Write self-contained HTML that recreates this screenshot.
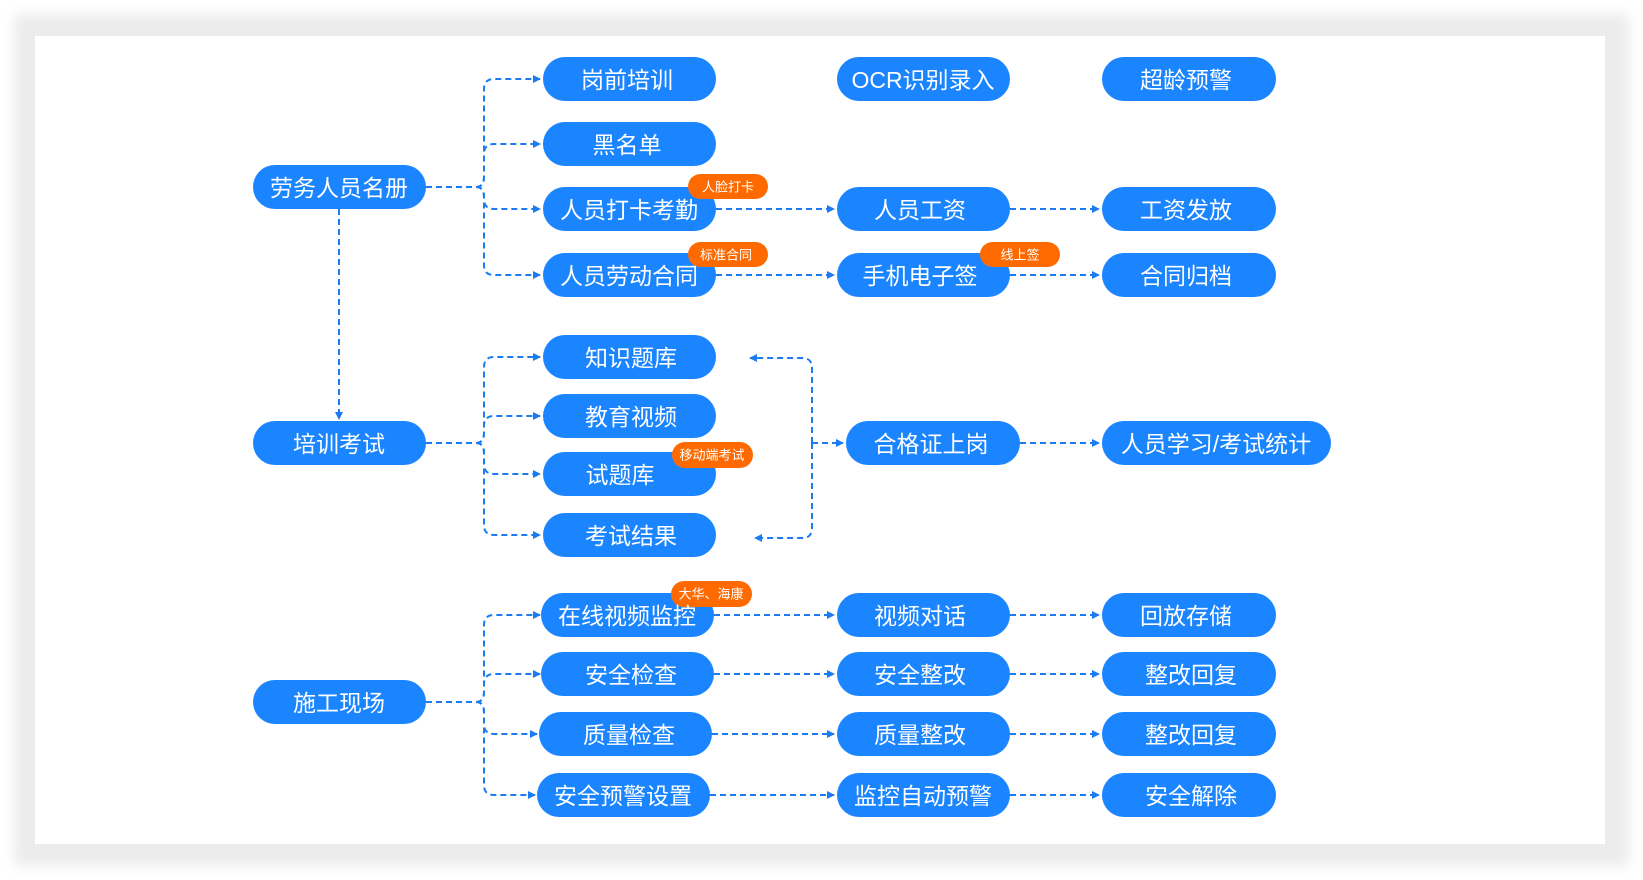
<!DOCTYPE html>
<html><head><meta charset="utf-8">
<style>
html,body{margin:0;padding:0;background:#fff;}
body{width:1643px;height:880px;position:relative;overflow:hidden;font-family:"Liberation Sans","Noto Sans CJK SC",sans-serif;}
.frame{position:absolute;left:14px;top:14px;width:1615px;height:852px;background:#ececec;filter:blur(6px);}
.card{position:absolute;left:35px;top:36px;width:1570px;height:808px;background:#fff;}
svg{position:absolute;left:0;top:0;}
</style></head><body>
<div class="frame"></div><div class="card"></div>
<svg width="1643" height="880" viewBox="0 0 1643 880">
<defs>
<marker id="a" markerWidth="8" markerHeight="8" refX="7" refY="4" orient="auto" markerUnits="userSpaceOnUse">
<path d="M0,0 L8,4 L0,8 z" fill="#1a7cf0"/></marker>
</defs>
<g fill="none" stroke="#1a7cf0" stroke-width="2" stroke-dasharray="6,4">
<!-- group 1 -->
<path d="M426 187 H476 Q484 187 484 177 V89 Q484 79 494 79 H540" marker-end="url(#a)"/>
<path d="M476 187 Q484 187 484 177 V154 Q484 144 494 144 H540" marker-end="url(#a)"/>
<path d="M476 187 Q484 187 484 197 V199 Q484 209 494 209 H540" marker-end="url(#a)"/>
<path d="M476 187 Q484 187 484 197 V265 Q484 275 494 275 H540" marker-end="url(#a)"/>
<path d="M339 209 V419" marker-end="url(#a)"/>
<!-- group 2 -->
<path d="M426 443 H476 Q484 443 484 433 V367 Q484 357 494 357 H540" marker-end="url(#a)"/>
<path d="M476 443 Q484 443 484 433 V426 Q484 416 494 416 H540" marker-end="url(#a)"/>
<path d="M476 443 Q484 443 484 453 V464 Q484 474 494 474 H540" marker-end="url(#a)"/>
<path d="M476 443 Q484 443 484 453 V525 Q484 535 494 535 H540" marker-end="url(#a)"/>
<path d="M812 443 V368 Q812 358 802 358 H750" marker-end="url(#a)"/>
<path d="M812 443 V528 Q812 538 802 538 H755" marker-end="url(#a)"/>
<path d="M812 443 H843" marker-end="url(#a)"/>
<path d="M1020 443 H1099" marker-end="url(#a)"/>
<!-- group 3 -->
<path d="M426 702 H476 Q484 702 484 692 V625 Q484 615 494 615 H540" marker-end="url(#a)"/>
<path d="M476 702 Q484 702 484 692 V684 Q484 674 494 674 H540" marker-end="url(#a)"/>
<path d="M476 702 Q484 702 484 712 V724 Q484 734 494 734 H537" marker-end="url(#a)"/>
<path d="M476 702 Q484 702 484 712 V785 Q484 795 494 795 H535" marker-end="url(#a)"/>
<!-- horizontals -->
<path d="M716 209 H834" marker-end="url(#a)"/>
<path d="M716 275 H834" marker-end="url(#a)"/>
<path d="M1010 209 H1099" marker-end="url(#a)"/>
<path d="M1010 275 H1099" marker-end="url(#a)"/>
<path d="M714 615 H834" marker-end="url(#a)"/>
<path d="M714 674 H834" marker-end="url(#a)"/>
<path d="M712 734 H834" marker-end="url(#a)"/>
<path d="M710 795 H834" marker-end="url(#a)"/>
<path d="M1010 615 H1099" marker-end="url(#a)"/>
<path d="M1010 674 H1099" marker-end="url(#a)"/>
<path d="M1010 734 H1099" marker-end="url(#a)"/>
<path d="M1010 795 H1099" marker-end="url(#a)"/>
</g>
<g fill="#1a85ff">
<rect x="253" y="165" width="173" height="44" rx="22"/>
<rect x="253" y="421" width="173" height="44" rx="22"/>
<rect x="253" y="680" width="173" height="44" rx="22"/>
<rect x="543" y="57" width="173" height="44" rx="22"/>
<rect x="543" y="122" width="173" height="44" rx="22"/>
<rect x="543" y="187" width="173" height="44" rx="22"/>
<rect x="543" y="253" width="173" height="44" rx="22"/>
<rect x="543" y="335" width="173" height="44" rx="22"/>
<rect x="543" y="394" width="173" height="44" rx="22"/>
<rect x="543" y="452" width="173" height="44" rx="22"/>
<rect x="543" y="513" width="173" height="44" rx="22"/>
<rect x="541" y="593" width="173" height="44" rx="22"/>
<rect x="541" y="652" width="173" height="44" rx="22"/>
<rect x="539" y="712" width="173" height="44" rx="22"/>
<rect x="537" y="773" width="173" height="44" rx="22"/>
<rect x="837" y="57" width="173" height="44" rx="22"/>
<rect x="837" y="187" width="173" height="44" rx="22"/>
<rect x="837" y="253" width="173" height="44" rx="22"/>
<rect x="846" y="421" width="174" height="44" rx="22"/>
<rect x="837" y="593" width="173" height="44" rx="22"/>
<rect x="837" y="652" width="173" height="44" rx="22"/>
<rect x="837" y="712" width="173" height="44" rx="22"/>
<rect x="837" y="773" width="173" height="44" rx="22"/>
<rect x="1102" y="57" width="174" height="44" rx="22"/>
<rect x="1102" y="187" width="174" height="44" rx="22"/>
<rect x="1102" y="253" width="174" height="44" rx="22"/>
<rect x="1102" y="421" width="229" height="44" rx="22"/>
<rect x="1102" y="593" width="174" height="44" rx="22"/>
<rect x="1102" y="652" width="174" height="44" rx="22"/>
<rect x="1102" y="712" width="174" height="44" rx="22"/>
<rect x="1102" y="773" width="174" height="44" rx="22"/>
</g>
<g fill="#ff6a00">
<rect x="688" y="174" width="80" height="25" rx="12.5"/>
<rect x="688" y="242" width="80" height="25" rx="12.5"/>
<rect x="980" y="242" width="80" height="25" rx="12.5"/>
<rect x="672" y="442" width="81" height="26" rx="13"/>
<rect x="671" y="581" width="81" height="26" rx="13"/>
</g>
<g fill="#fff" font-family="'Liberation Sans','Noto Sans CJK SC',sans-serif" font-size="23" text-anchor="middle" dominant-baseline="central">
<text x="339" y="188">劳务人员名册</text>
<text x="339" y="444">培训考试</text>
<text x="339" y="703">施工现场</text>
<text x="627" y="80">岗前培训</text>
<text x="627" y="145">黑名单</text>
<text x="629" y="210">人员打卡考勤</text>
<text x="629" y="276">人员劳动合同</text>
<text x="631" y="358">知识题库</text>
<text x="631" y="417">教育视频</text>
<text x="620" y="475">试题库</text>
<text x="631" y="536">考试结果</text>
<text x="627" y="616">在线视频监控</text>
<text x="631" y="675">安全检查</text>
<text x="629" y="735">质量检查</text>
<text x="623" y="796">安全预警设置</text>
<text x="923" y="80">OCR识别录入</text>
<text x="920" y="210">人员工资</text>
<text x="920" y="276">手机电子签</text>
<text x="931" y="444">合格证上岗</text>
<text x="920" y="616">视频对话</text>
<text x="920" y="675">安全整改</text>
<text x="920" y="735">质量整改</text>
<text x="923" y="796">监控自动预警</text>
<text x="1186" y="80">超龄预警</text>
<text x="1186" y="210">工资发放</text>
<text x="1186" y="276">合同归档</text>
<text x="1216" y="444">人员学习/考试统计</text>
<text x="1186" y="616">回放存储</text>
<text x="1191" y="675">整改回复</text>
<text x="1191" y="735">整改回复</text>
<text x="1191" y="796">安全解除</text>
</g>
<g fill="#fff" font-family="'Liberation Sans','Noto Sans CJK SC',sans-serif" font-size="13" text-anchor="middle" dominant-baseline="central">
<text x="728" y="187">人脸打卡</text>
<text x="726" y="255">标准合同</text>
<text x="1020" y="255">线上签</text>
<text x="712" y="455">移动端考试</text>
<text x="711" y="594">大华、海康</text>
</g>
</svg>
</body></html>
